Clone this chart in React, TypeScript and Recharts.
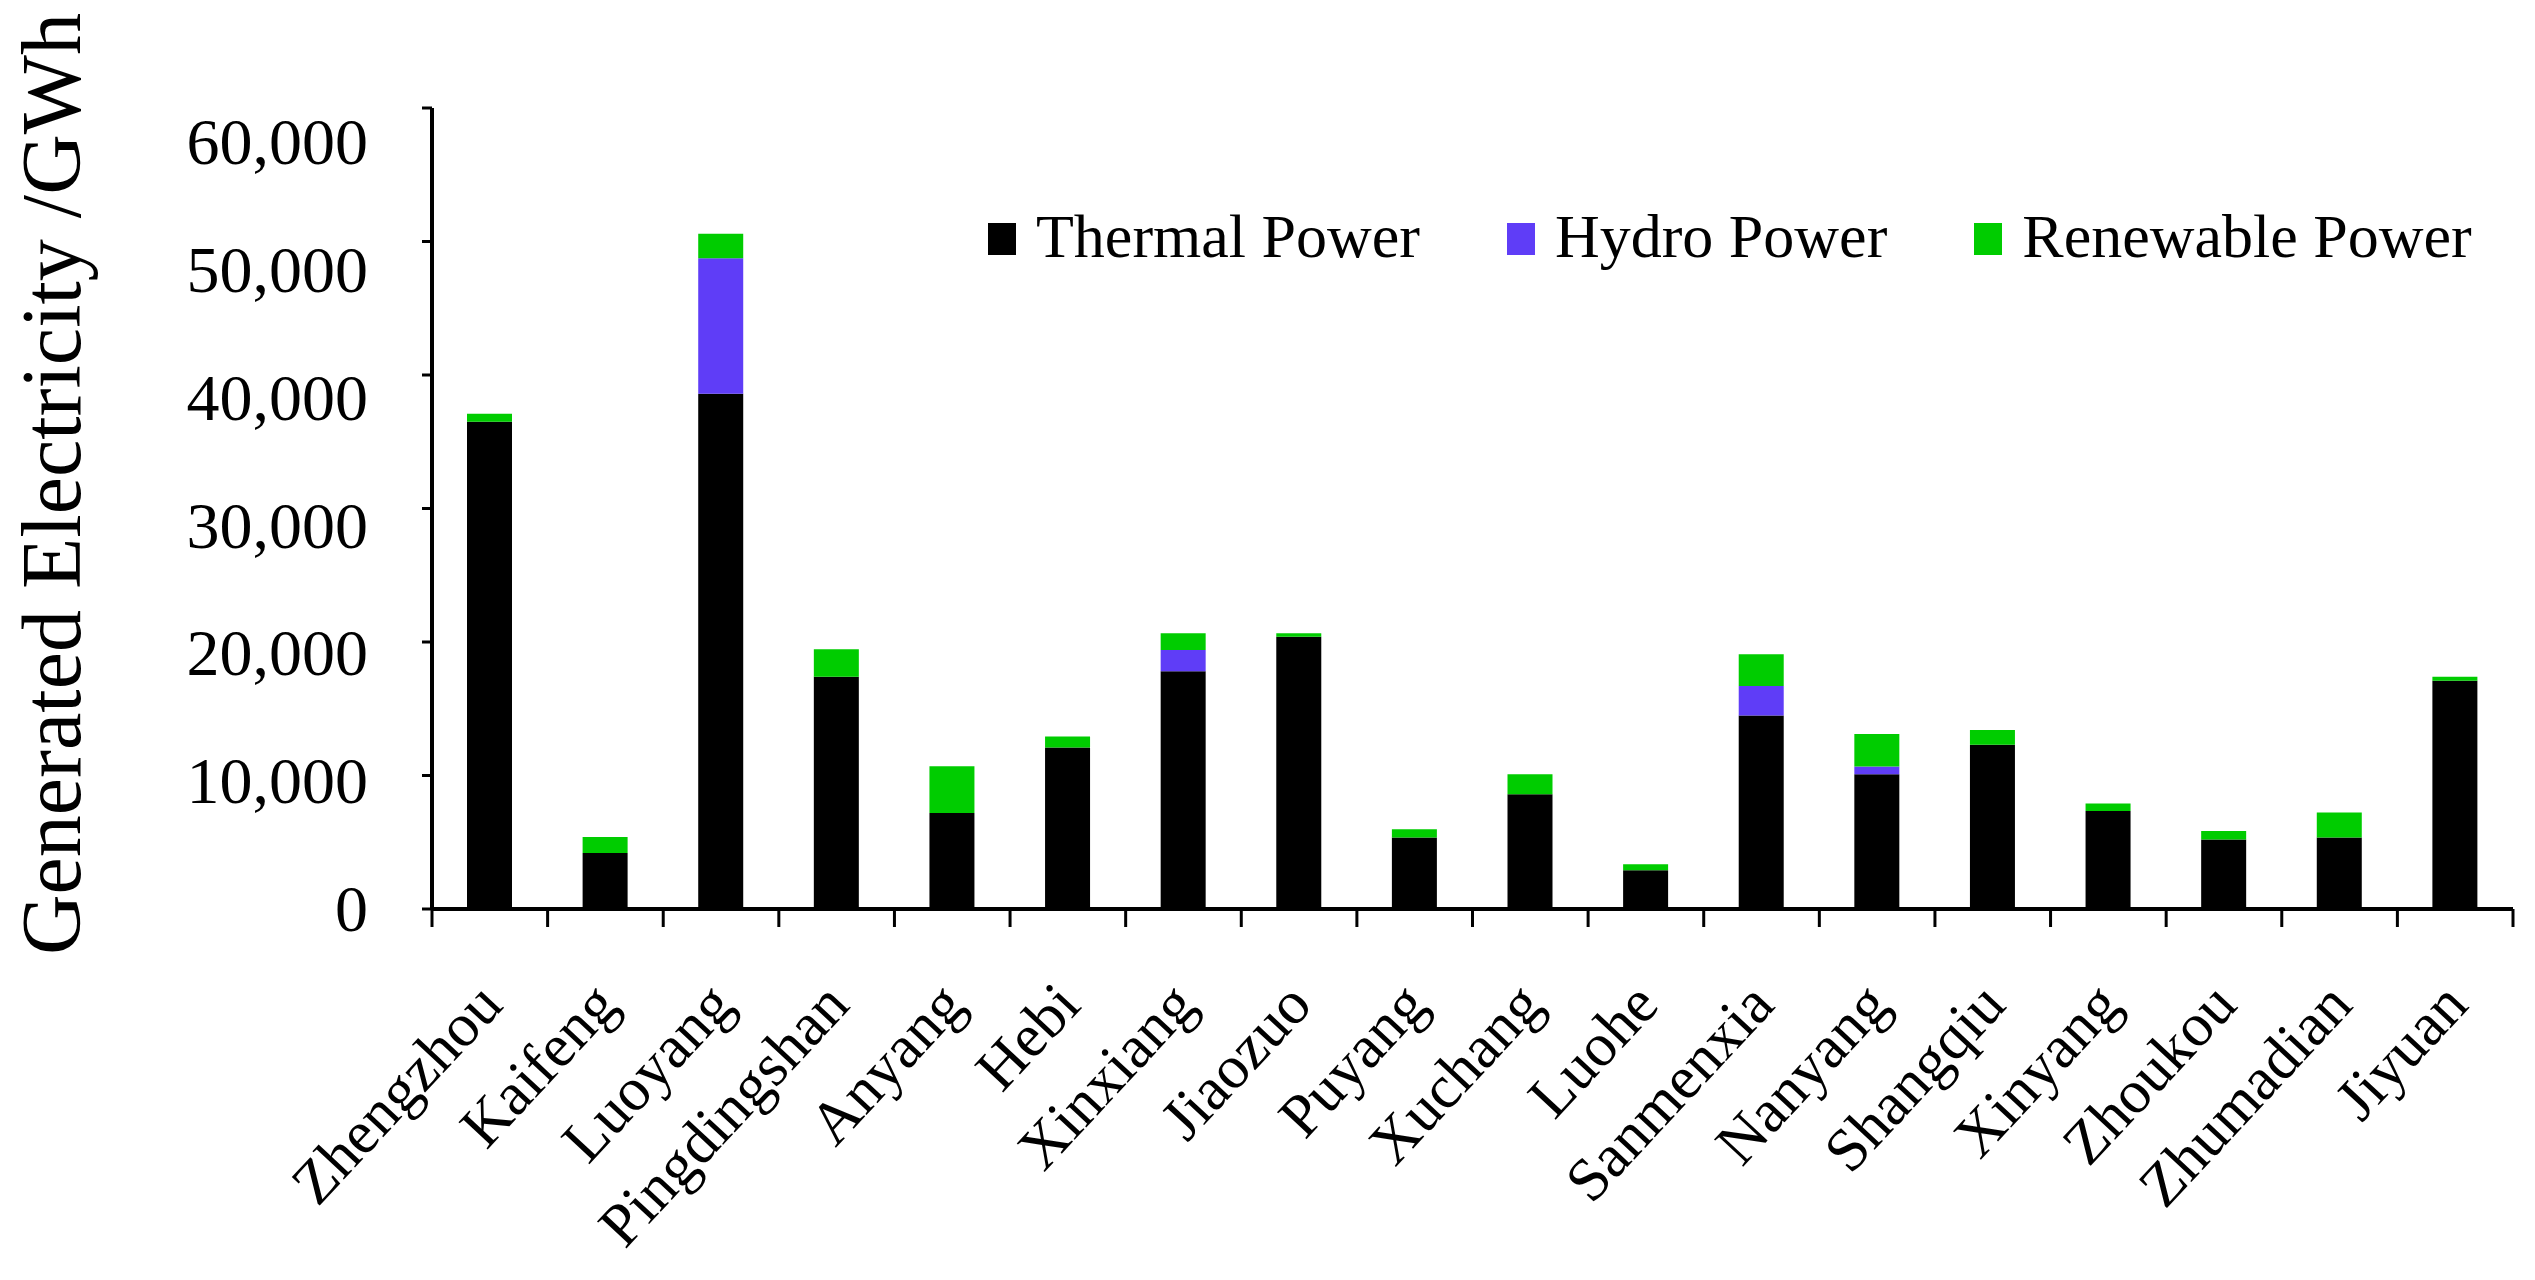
import React from 'react';
import { BarChart, Bar, XAxis, YAxis, Legend } from 'recharts';

const categories = [
  'Zhengzhou', 'Kaifeng', 'Luoyang', 'Pingdingshan', 'Anyang', 'Hebi',
  'Xinxiang', 'Jiaozuo', 'Puyang', 'Xuchang', 'Luohe', 'Sanmenxia',
  'Nanyang', 'Shangqiu', 'Xinyang', 'Zhoukou', 'Zhumadian', 'Jiyuan',
];
const thermalPower = [36500, 4200, 38600, 17400, 7200, 12100, 17800, 20400, 5350, 8600, 2900, 14500, 10100, 12300, 7350, 5200, 5350, 17100];
const hydroPower = [0, 0, 10150, 0, 0, 0, 1600, 0, 0, 0, 0, 2200, 570, 0, 0, 0, 0, 0];
const renewablePower = [600, 1200, 1830, 2060, 3500, 820, 1250, 250, 630, 1500, 450, 2380, 2430, 1100, 550, 650, 1870, 300];
const yTicks = [0, 10000, 20000, 30000, 40000, 50000, 60000];
const seriesNames = ['Thermal Power', 'Hydro Power', 'Renewable Power'];
const seriesColors = ['#000000', '#5f3df7', '#00cc00'];

const data = categories.map((city, i) => ({
  city,
  thermal: thermalPower[i],
  hydro: hydroPower[i],
  renewable: renewablePower[i],
}));

const W = 2535;
const H = 1280;
const PLOT_LEFT = 432;
const PLOT_RIGHT = 2513;
const PLOT_TOP = 108;
const PLOT_BOTTOM = 909;
const BAND = (PLOT_RIGHT - PLOT_LEFT) / categories.length;
const FONT = '"Liberation Serif", "Times New Roman", Times, serif';

function XTick(props: any) {
  const { x, y, payload, index } = props;
  const lx = x + 15;
  const ly = y + 98;
  return (
    <g>
      <line x1={x - BAND / 2} x2={x - BAND / 2} y1={y} y2={y + 18} stroke="#000" strokeWidth={3} />
      {index === categories.length - 1 && (
        <line x1={x + BAND / 2} x2={x + BAND / 2} y1={y} y2={y + 18} stroke="#000" strokeWidth={3} />
      )}
      <text
        x={lx}
        y={ly}
        transform={`rotate(-47 ${lx} ${ly})`}
        textAnchor="end"
        fontFamily={FONT}
        fontSize={61}
        fill="#000"
      >
        {payload.value}
      </text>
    </g>
  );
}

function YTick(props: any) {
  const { x, y, payload } = props;
  const v = Number(payload.value);
  const cy = y + v * 0.00057;
  return (
    <text x={x} y={cy + 22} textAnchor="end" fontFamily={FONT} fontSize={66} fill="#000">
      {v.toLocaleString('en-US')}
    </text>
  );
}

function YLabel() {
  const lx = 80;
  const ly = 484;
  return (
    <text
      x={lx}
      y={ly}
      transform={`rotate(-90 ${lx} ${ly})`}
      textAnchor="middle"
      fontFamily={FONT}
      fontSize={84}
      fill="#000"
    >
      Generated Electricity /GWh
    </text>
  );
}

function renderLegend(props: any) {
  const payload = [...(props.payload || [])].sort(
    (a: any, b: any) => seriesNames.indexOf(a.value) - seriesNames.indexOf(b.value)
  );
  return (
    <div
      style={{
        display: 'flex',
        alignItems: 'flex-start',
        fontFamily: FONT,
        fontSize: 62,
        lineHeight: '62px',
        whiteSpace: 'nowrap',
        color: '#000',
      }}
    >
      {payload.map((p: any, i: number) => (
        <div key={i} style={{ display: 'flex', alignItems: 'flex-start', marginLeft: i === 0 ? 0 : 87 }}>
          <div style={{ width: 28, height: 32, background: p.color, marginTop: 18, marginRight: 20 }} />
          <span>{p.value}</span>
        </div>
      ))}
    </div>
  );
}

export default function App() {
  return (
    <div style={{ position: 'absolute', left: 0, top: 0, width: W, height: H, background: '#fff' }}>
      <BarChart
        width={W}
        height={H}
        data={data}
        margin={{ top: PLOT_TOP, right: W - PLOT_RIGHT, bottom: 0, left: 0 }}
      >
        <XAxis
          dataKey="city"
          interval={0}
          height={H - PLOT_BOTTOM}
          tickLine={false}
          tickSize={0}
          tickMargin={0}
          axisLine={{ stroke: '#000', strokeWidth: 4 }}
          tick={<XTick />}
        />
        <YAxis
          width={PLOT_LEFT}
          domain={[0, 60000]}
          ticks={yTicks}
          interval={0}
          tickSize={10}
          tickMargin={54}
          tickLine={{ stroke: '#000', strokeWidth: 3 }}
          axisLine={{ stroke: '#000', strokeWidth: 4 }}
          tick={<YTick />}
          label={<YLabel />}
        />
        <Legend
          layout="horizontal"
          verticalAlign="middle"
          align="center"
          content={renderLegend}
          wrapperStyle={{ position: 'absolute', left: 988, top: 205, width: 'auto', height: 'auto' }}
        />
        <Bar dataKey="thermal" name={seriesNames[0]} stackId="a" fill={seriesColors[0]} barSize={45} isAnimationActive={false} />
        <Bar dataKey="hydro" name={seriesNames[1]} stackId="a" fill={seriesColors[1]} barSize={45} isAnimationActive={false} />
        <Bar dataKey="renewable" name={seriesNames[2]} stackId="a" fill={seriesColors[2]} barSize={45} isAnimationActive={false} />
      </BarChart>
    </div>
  );
}
